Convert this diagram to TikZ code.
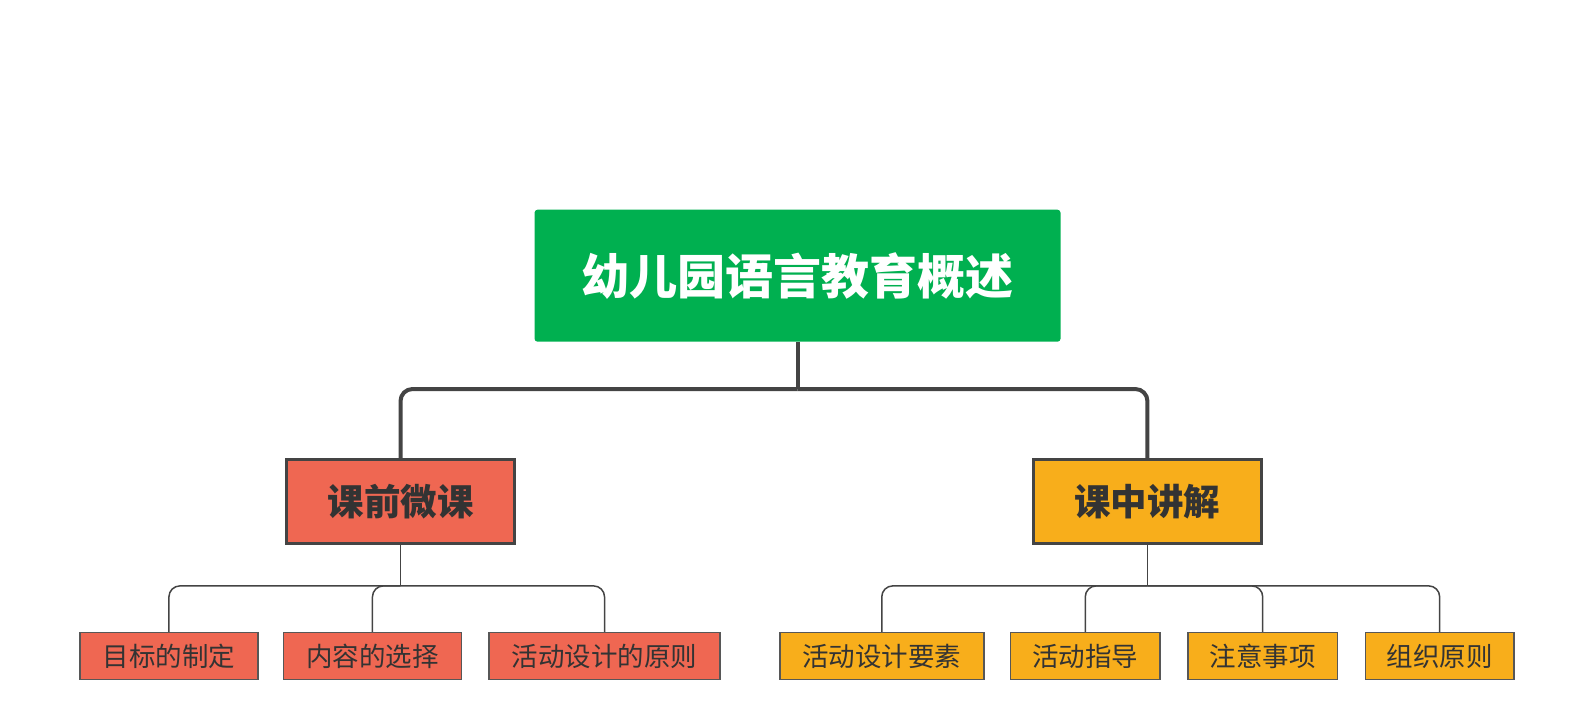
\documentclass[tikz,border=0pt]{standalone}
\usepackage{fontspec}
\setmainfont{Noto Sans CJK SC}
\definecolor{rootgreen}{HTML}{00B050}
\definecolor{redfill}{HTML}{EF6752}
\definecolor{orangefill}{HTML}{F8AE1B}
\definecolor{linegray}{HTML}{444444}
\definecolor{textgray}{HTML}{333333}
\tikzset{
  rootbox/.style={fill=rootgreen, draw=none, rounded corners=3pt, minimum width=526pt, minimum height=132pt, inner sep=0pt, text=white, font=\fontsize{48}{52}\selectfont\bfseries},
  midbox/.style={draw=linegray, line width=3pt, minimum width=228pt, minimum height=84pt, inner sep=0pt, text=textgray, font=\fontsize{36.5}{40}\selectfont\bfseries},
  leafbox/.style={draw=linegray!90, line width=1.5pt, minimum height=47pt, inner sep=0pt, text=textgray, font=\fontsize{26.5}{30}\selectfont},
  thickline/.style={draw=linegray, line width=4pt, rounded corners=12pt},
  thinline/.style={draw=linegray, line width=1.5pt, rounded corners=11pt},
}
\begin{document}
\begin{tikzpicture}[x=1.0026pt,y=-1.0026pt]
\useasboundingbox (0,0) rectangle (1568,715);
\node[rootbox] (root) at (795.5,275) {幼儿园语言教育概述};
\node[midbox, fill=redfill] (L1) at (399.5,500) {课前微课};
\node[midbox, fill=orangefill] (L2) at (1144.5,500) {课中讲解};
\node[leafbox, fill=redfill, minimum width=178pt] (a1) at (168.5,654.5) {目标的制定};
\node[leafbox, fill=redfill, minimum width=178pt] (a2) at (371.5,654.5) {内容的选择};
\node[leafbox, fill=redfill, minimum width=231pt] (a3) at (603,654.5) {活动设计的原则};
\node[leafbox, fill=orangefill, minimum width=204pt] (b1) at (879.5,654.5) {活动设计要素};
\node[leafbox, fill=orangefill, minimum width=149.5pt] (b2) at (1082.5,654.5) {活动指导};
\node[leafbox, fill=orangefill, minimum width=149.5pt] (b3) at (1259.5,654.5) {注意事项};
\node[leafbox, fill=orangefill, minimum width=148.5pt] (b4) at (1436,654.5) {组织原则};
\path (root.south) ++(0,47) coordinate (j0);
\path (L1.south) ++(0,41) coordinate (j1);
\path (L2.south) ++(0,41) coordinate (j2);
\draw[thickline] (root.south) -- (j0);
\draw[thickline] (j0) -| (L1.north);
\draw[thickline] (j0) -| (L2.north);
\draw[thinline] (L1.south) -- (j1);
\draw[thinline] (L2.south) -- (j2);
\foreach \n in {a1,a2,a3} \draw[thinline] (j1) -| (\n.north);
\foreach \n in {b1,b2,b3,b4} \draw[thinline] (j2) -| (\n.north);
\end{tikzpicture}
\end{document}
